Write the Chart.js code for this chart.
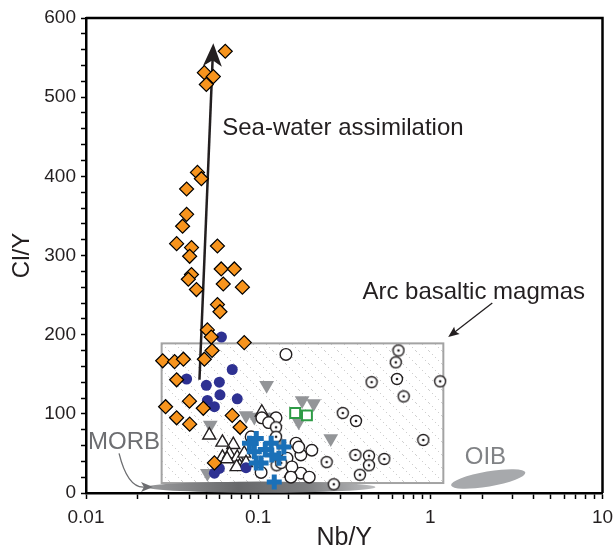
<!DOCTYPE html>
<html>
<head>
<meta charset="utf-8">
<script src="https://cdn.jsdelivr.net/npm/chart.js@4.4.1/dist/chart.umd.min.js"></script>
<style>
  body { margin: 0; background: #fff; }
  canvas { display: block; }
</style>
</head>
<body>
<canvas id="chart" width="615" height="546"></canvas>
<script>
// tick labels shown on the log axis
const xTickLabels = [0.01, 0.1, 1, 10];
const yTickLabels = [0, 100, 200, 300, 400, 500, 600];

// orange diamonds
const diamondX = [0.0644, 0.0487, 0.0549, 0.050, 0.0444, 0.0468, 0.0384, 0.0384, 0.0364, 0.0336,
  0.041, 0.040, 0.058, 0.061, 0.0727, 0.041, 0.0393, 0.0627, 0.081, 0.0438,
  0.058, 0.060, 0.0507, 0.0534, 0.054, 0.083, 0.0279, 0.0327, 0.0368, 0.0487,
  0.0336, 0.029, 0.0399, 0.048, 0.0336, 0.040, 0.0707, 0.0785, 0.0557];
const diamondY = [558, 531, 526, 516, 405, 397, 384, 352, 337, 315,
  310, 299, 312, 283, 283, 276, 270, 264, 260, 257,
  238, 229, 206, 197, 180, 190, 167, 166, 169, 169,
  143, 109, 116, 107, 95, 87, 98, 83, 38];

// dark blue filled circles
const navyX = [0.0612, 0.0707, 0.0384, 0.050, 0.0595, 0.060, 0.0756, 0.0507, 0.0557, 0.0595, 0.0557, 0.085];
const navyY = [197, 156, 144, 136, 140, 124, 119, 117, 109, 31, 25, 32];

// grey inverted triangles
const greyTriX = [0.112, 0.0527, 0.085, 0.095, 0.119, 0.18, 0.21, 0.172, 0.132, 0.0507, 0.264];
const greyTriY = [136, 86, 98, 96, 96, 117, 113, 90, 63, 25, 69];

// open triangles
const openTriX = [0.105, 0.052, 0.062, 0.0717, 0.062, 0.068, 0.0756, 0.078, 0.083, 0.085, 0.075, 0.155, 0.066];
const openTriY = [102, 73, 64, 61, 45, 49, 45, 34, 50, 38, 33, 25, 43];

// blue crosses
const crossX = [0.0975, 0.095, 0.104, 0.119, 0.12, 0.141, 0.124, 0.089, 0.0975, 0.132, 0.11];
const crossY = [69, 52, 38, 63, 48, 58, 14, 63, 38, 44, 55];

// open circles
const openCircX = [0.145, 0.105, 0.127, 0.115, 0.091, 0.166, 0.177, 0.205, 0.147, 0.177, 0.198, 0.104, 0.172, 0.157, 0.155];
const openCircY = [175, 95, 95, 89, 71, 63, 48, 54, 44, 25, 20, 26, 58, 33, 20];

// circles with a centre dot
const dotCircX = [0.653, 0.63, 0.456, 0.64, 1.14, 0.70, 0.31, 0.37, 0.91, 0.367, 0.44, 0.54, 0.44, 0.25, 0.39, 0.275, 0.128, 0.127, 0.127, 0.136];
const dotCircY = [180, 165, 140, 144, 141, 122, 101, 91, 67, 48, 47, 43, 35, 39, 23, 11, 35, 83, 71, 38];

// green open squares
const squareX = [0.164, 0.192];
const squareY = [101, 98];

// annotation anchors, in data units
const seaArrowX = [0.0456, 0.0549];
const seaArrowY = [143, 568];
const arcBoxX = [0.0275, 1.19];
const arcBoxY = [12.6, 189];
const arcArrowX = [2.29, 1.27];
const arcArrowY = [240, 197];
const morbEllipseX = [0.0225, 0.48];
const morbEllipseY = [0.3, 14.5];
const morbArrowX = [0.01556, 0.0175, 0.0245];
const morbArrowY = [50, 5, 7.6];
const oibEllipseX = [1.31, 3.59];
const oibEllipseY = [17.7];

function toPoints(xs, ys)
{
    const pts = [];
    for (let i = 0; i < xs.length; i++) {
        pts.push({x: xs[i], y: ys[i]});
    }
    return pts;
}

function dotCircleImage()
{
    const c = document.createElement('canvas');
    c.width = 14;
    c.height = 14;
    const g = c.getContext('2d');
    g.beginPath();
    g.arc(7, 7, 5.5, 0, Math.PI * 2);
    g.fillStyle = '#fff';
    g.fill();
    g.lineWidth = 1.4;
    g.strokeStyle = '#231f20';
    g.stroke();
    g.beginPath();
    g.arc(7, 7, 1.3, 0, Math.PI * 2);
    g.fillStyle = '#231f20';
    g.fill();
    return c;
}

function hatchPattern(ctx)
{
    const c = document.createElement('canvas');
    c.width = 13;
    c.height = 13;
    const g = c.getContext('2d');
    g.fillStyle = '#cfcfcf';
    for (let i = 0; i < 13; i += 3) {
        g.fillRect(i, i, 1, 1);
    }
    return ctx.createPattern(c, 'repeat');
}

function arrowHead(ctx, x1, y1, x2, y2, len, half, notch)
{
    const a = Math.atan2(y2 - y1, x2 - x1);
    const cos = Math.cos(a), sin = Math.sin(a);
    const bx = x2 - len * cos, by = y2 - len * sin;
    ctx.beginPath();
    ctx.moveTo(x2, y2);
    ctx.lineTo(bx - half * sin, by + half * cos);
    ctx.lineTo(x2 - (len - notch) * cos, y2 - (len - notch) * sin);
    ctx.lineTo(bx + half * sin, by - half * cos);
    ctx.closePath();
    ctx.fill();
}

const annotations = {
    id: 'annotations',
    beforeDatasetsDraw(chart) {
        const ctx = chart.ctx;
        const xs = chart.scales.x, ys = chart.scales.y;
        ctx.save();

        // arc basaltic magmas box
        const bx0 = xs.getPixelForValue(arcBoxX[0]), bx1 = xs.getPixelForValue(arcBoxX[1]);
        const by0 = ys.getPixelForValue(arcBoxY[1]), by1 = ys.getPixelForValue(arcBoxY[0]);
        ctx.fillStyle = hatchPattern(ctx);
        ctx.fillRect(bx0, by0, bx1 - bx0, by1 - by0);
        ctx.strokeStyle = '#a3a3a3';
        ctx.lineWidth = 2;
        ctx.strokeRect(bx0, by0, bx1 - bx0, by1 - by0);

        // MORB field
        const mx0 = xs.getPixelForValue(morbEllipseX[0]), mx1 = xs.getPixelForValue(morbEllipseX[1]);
        const my0 = ys.getPixelForValue(morbEllipseY[1]), my1 = ys.getPixelForValue(morbEllipseY[0]);
        const grad = ctx.createLinearGradient(mx0, 0, mx1, 0);
        grad.addColorStop(0, '#9a9b9d');
        grad.addColorStop(0.4, '#67686a');
        grad.addColorStop(0.7, '#7d7e80');
        grad.addColorStop(1, '#bdbec0');
        ctx.fillStyle = grad;
        ctx.beginPath();
        ctx.ellipse((mx0 + mx1) / 2, (my0 + my1) / 2, (mx1 - mx0) / 2, (my1 - my0) / 2, 0, 0, Math.PI * 2);
        ctx.fill();

        // OIB field
        const ox0 = xs.getPixelForValue(oibEllipseX[0]), ox1 = xs.getPixelForValue(oibEllipseX[1]);
        const oy = ys.getPixelForValue(oibEllipseY[0]);
        ctx.fillStyle = '#a7a9ac';
        ctx.beginPath();
        ctx.ellipse((ox0 + ox1) / 2, oy, (ox1 - ox0) / 2, 7.5, -0.17, 0, Math.PI * 2);
        ctx.fill();

        // sea-water arrow
        const sx0 = xs.getPixelForValue(seaArrowX[0]), sy0 = ys.getPixelForValue(seaArrowY[0]);
        const sx1 = xs.getPixelForValue(seaArrowX[1]), sy1 = ys.getPixelForValue(seaArrowY[1]);
        ctx.strokeStyle = '#231f20';
        ctx.fillStyle = '#231f20';
        ctx.lineWidth = 2.5;
        ctx.beginPath();
        ctx.moveTo(sx0, sy0);
        ctx.lineTo(sx1 - (sx1 - sx0) * 0.04, sy1 + 12);
        ctx.stroke();
        arrowHead(ctx, sx0, sy0, sx1, sy1, 23, 9.5, 6);
        ctx.restore();
    },
    afterDatasetsDraw(chart) {
        const ctx = chart.ctx;
        const xs = chart.scales.x, ys = chart.scales.y;
        const area = chart.chartArea;
        ctx.save();

        // texts
        ctx.font = '24px "Liberation Sans", Arial, sans-serif';
        ctx.textBaseline = 'middle';
        ctx.textAlign = 'left';
        ctx.fillStyle = '#231f20';
        ctx.fillText('Sea-water assimilation', xs.getPixelForValue(0.0618), ys.getPixelForValue(460));
        ctx.fillText('Arc basaltic magmas', xs.getPixelForValue(0.403), ys.getPixelForValue(254));
        ctx.fillStyle = '#6d6e71';
        ctx.fillText('MORB', xs.getPixelForValue(0.01027), ys.getPixelForValue(64));
        ctx.fillStyle = '#808285';
        ctx.textAlign = 'center';
        ctx.fillText('OIB', xs.getPixelForValue(2.09), ys.getPixelForValue(45));

        // arc arrow
        const ax0 = xs.getPixelForValue(arcArrowX[0]), ay0 = ys.getPixelForValue(arcArrowY[0]);
        const ax1 = xs.getPixelForValue(arcArrowX[1]), ay1 = ys.getPixelForValue(arcArrowY[1]);
        ctx.strokeStyle = '#231f20';
        ctx.fillStyle = '#231f20';
        ctx.lineWidth = 1.3;
        ctx.beginPath();
        ctx.moveTo(ax0, ay0);
        ctx.lineTo(ax1 + (ax0 - ax1) * 0.15, ay1 + (ay0 - ay1) * 0.15);
        ctx.stroke();
        arrowHead(ctx, ax0, ay0, ax1, ay1, 11, 4.5, 2);

        // MORB curved arrow
        const p0x = xs.getPixelForValue(morbArrowX[0]), p0y = ys.getPixelForValue(morbArrowY[0]);
        const cx = xs.getPixelForValue(morbArrowX[1]), cy = ys.getPixelForValue(morbArrowY[1]);
        const p1x = xs.getPixelForValue(morbArrowX[2]), p1y = ys.getPixelForValue(morbArrowY[2]);
        ctx.strokeStyle = '#6d6e71';
        ctx.fillStyle = '#6d6e71';
        ctx.lineWidth = 1.3;
        ctx.beginPath();
        ctx.moveTo(p0x, p0y);
        ctx.quadraticCurveTo(cx, cy, p1x - 8, p1y);
        ctx.stroke();
        arrowHead(ctx, cx, p1y, p1x, p1y, 12, 5, 3);

        // frame top and right
        ctx.strokeStyle = '#000';
        ctx.lineWidth = 2.5;
        ctx.beginPath();
        ctx.moveTo(area.left, area.top);
        ctx.lineTo(area.right, area.top);
        ctx.lineTo(area.right, area.bottom);
        ctx.stroke();
        ctx.restore();
    }
};

Chart.defaults.font.family = '"Liberation Sans", Arial, sans-serif';
Chart.defaults.color = '#231f20';

const ctx = document.getElementById('chart').getContext('2d');

const myChart = new Chart(ctx, {
    type: 'scatter',
    data: {
        datasets: [{
            label: 'diamonds',
            data: toPoints(diamondX, diamondY),
            pointStyle: 'rectRot',
            pointRadius: 7,
            backgroundColor: '#f7941d',
            borderColor: '#000',
            borderWidth: 1.2
        }, {
            label: 'squares',
            data: toPoints(squareX, squareY),
            pointStyle: 'rect',
            pointRadius: 7,
            backgroundColor: '#fff',
            borderColor: '#2e9b46',
            borderWidth: 2
        }, {
            label: 'crosses',
            data: toPoints(crossX, crossY),
            pointStyle: 'cross',
            pointRadius: 7.5,
            backgroundColor: '#1a70b8',
            borderColor: '#1a70b8',
            borderWidth: 5
        }, {
            label: 'navy',
            data: toPoints(navyX, navyY),
            pointStyle: 'circle',
            pointRadius: 5.5,
            backgroundColor: '#2e3192',
            borderColor: '#2e3192',
            borderWidth: 0
        }, {
            label: 'dotted circles',
            data: toPoints(dotCircX, dotCircY),
            pointStyle: dotCircleImage(),
            pointRadius: 7
        }, {
            label: 'open circles',
            data: toPoints(openCircX, openCircY),
            pointStyle: 'circle',
            pointRadius: 5.8,
            backgroundColor: '#fff',
            borderColor: '#231f20',
            borderWidth: 1.4
        }, {
            label: 'open triangles',
            data: toPoints(openTriX, openTriY),
            pointStyle: 'triangle',
            pointRadius: 7.5,
            backgroundColor: '#fff',
            borderColor: '#231f20',
            borderWidth: 1.4
        }, {
            label: 'grey triangles',
            data: toPoints(greyTriX, greyTriY),
            pointStyle: 'triangle',
            rotation: 180,
            pointRadius: 8.5,
            backgroundColor: '#939598',
            borderColor: '#939598',
            borderWidth: 0
        }]
    },
    options: {
        responsive: false,
        animation: false,
        devicePixelRatio: 1,
        layout: {
            padding: {top: 18, right: 12, bottom: 0, left: 0}
        },
        plugins: {
            legend: {display: false},
            tooltip: {enabled: false}
        },
        scales: {
            x: {
                type: 'logarithmic',
                min: 0.01,
                max: 10,
                afterFit: function (scale) {
                    scale.height = 53;
                    scale.paddingLeft = 0;
                    scale.paddingRight = 0;
                },
                border: {display: true, color: '#000', width: 2.5},
                grid: {drawOnChartArea: false, drawTicks: true, tickLength: 6, tickWidth: 1.5, tickColor: '#000'},
                ticks: {
                    autoSkip: false,
                    maxRotation: 0,
                    padding: 7,
                    font: {size: 19},
                    callback: function (value) {
                        for (const t of xTickLabels) {
                            if (Math.abs(value - t) / t < 1e-6) return String(t);
                        }
                        return '';
                    }
                },
                title: {
                    display: true,
                    text: 'Nb/Y',
                    font: {size: 25, lineHeight: 0.65},
                    padding: {top: 0, bottom: 0},
                    color: '#231f20'
                }
            },
            y: {
                type: 'linear',
                min: 0,
                max: 600,
                afterFit: function (scale) {
                    scale.width = 86;
                    scale.paddingTop = 0;
                    scale.paddingBottom = 0;
                },
                border: {display: true, color: '#000', width: 2.5},
                grid: {drawOnChartArea: false, drawTicks: true, tickLength: 5, tickWidth: 1.5, tickColor: '#000'},
                ticks: {
                    stepSize: 20,
                    autoSkip: false,
                    padding: 5,
                    font: {size: 19},
                    callback: function (value) {
                        return yTickLabels.includes(value) ? String(value) : '';
                    }
                },
                title: {
                    display: true,
                    text: 'Cl/Y',
                    font: {size: 24, lineHeight: 1},
                    padding: {top: 10, bottom: 0},
                    color: '#231f20'
                }
            }
        }
    },
    plugins: [annotations]
});
</script>
</body>
</html>
